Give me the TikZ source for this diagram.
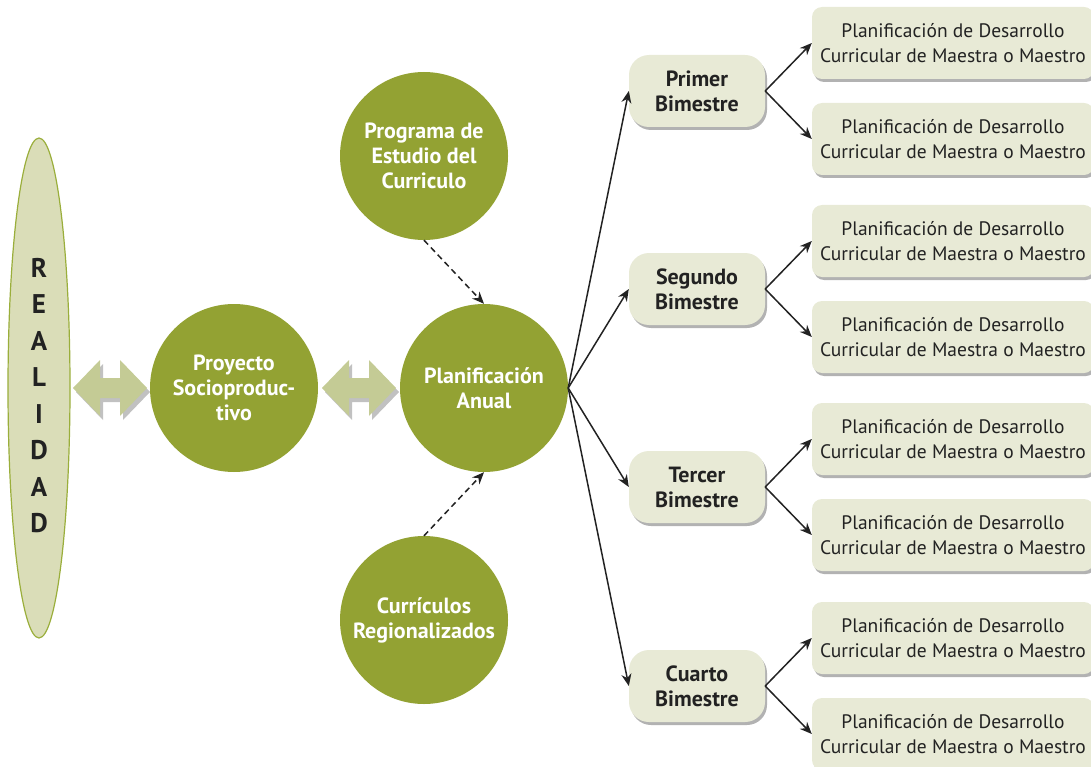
\documentclass[tikz,border=0pt]{standalone}
\usepackage{fontspec}
\setmainfont{PT Sans}
\usetikzlibrary{shadows,arrows.meta}
\definecolor{olive}{HTML}{93A233}
\definecolor{oliveedge}{HTML}{9AAE3B}
\definecolor{realfill}{HTML}{DADDB8}
\definecolor{boxfill}{HTML}{E8EAD6}
\definecolor{dblfill}{HTML}{C4CB95}
\definecolor{ink}{HTML}{222222}
\tikzset{
  bigcircle/.style={circle, fill=olive, minimum size=168pt, inner sep=0pt, text=white,
    font=\fontsize{22}{25}\selectfont\bfseries, align=center},
  bimbox/.style={rounded corners=20pt, fill=boxfill, minimum width=136pt, minimum height=72pt,
    font=\fontsize{22}{25}\selectfont\bfseries, text=ink, align=center,
    drop shadow={shadow xshift=2pt, shadow yshift=-3pt, opacity=0.5, fill=black!60}},
  planbox/.style={rounded corners=10pt, fill=boxfill, minimum width=282pt, minimum height=72pt,
    font=\fontsize{19.5}{25}\selectfont, text=ink, align=center,
    drop shadow={shadow xshift=2pt, shadow yshift=-3pt, opacity=0.5, fill=black!60}},
  conn/.style={-{Stealth[length=12pt,width=10pt]}, line width=1.5pt, ink},
  dconn/.style={-{Stealth[length=12pt,width=10pt]}, line width=1.5pt, ink, dash pattern=on 6pt off 4pt},
  dblarrow/.style={fill=dblfill, draw=none,
    drop shadow={shadow xshift=3pt, shadow yshift=-4pt, opacity=0.35, fill=black!70}},
  letter/.style={font=\fontsize{27}{27}\selectfont\bfseries, text=ink}
}
\begin{document}
\begin{tikzpicture}[x=1pt,y=-1pt]
\useasboundingbox (0,0) rectangle (1091,767);
% Realidad ellipse
\draw[fill=realfill, draw=oliveedge, line width=1.2pt] (39,388) ellipse [x radius=31, y radius=250];
\node[coordinate] (real) at (39,388) {};
\foreach \ch [count=\i] in {R,E,A,L,I,D,A,D}
  \node[letter] (r\i) at (39,{268+(\i-1)*36.5}) {\ch};
% double arrows
\foreach \cx in {110,359}{
  \path[dblarrow] (\cx-37,388) -- (\cx-10,360) -- (\cx-10,378) -- (\cx+10,378) -- (\cx+10,360)
     -- (\cx+37,388) -- (\cx+10,416) -- (\cx+10,398) -- (\cx-10,398) -- (\cx-10,416) -- cycle;
}
% circles
\node[bigcircle] (proy) at (234,388) {Proyecto\\Socioproduc-\\tivo};
\node[bigcircle] (anual) at (484,388) {Planificación\\Anual};
\node[bigcircle] (prog) at (424,156) {Programa de\\Estudio del\\Curriculo};
\node[bigcircle] (curr) at (424,620) {Currículos\\Regionalizados};
\draw[dconn] (prog.south) -- (anual.north);
\draw[dconn] (curr.north) -- (anual.south);
% bimestres
\node[bimbox] (b1) at (697,91) {Primer\\Bimestre};
\node[bimbox] (b2) at (697,289) {Segundo\\Bimestre};
\node[bimbox] (b3) at (697,487) {Tercer\\Bimestre};
\node[bimbox] (b4) at (697,686) {Cuarto\\Bimestre};
\foreach \b in {b1,b2,b3,b4}
  \draw[conn] (anual.east) -- (\b.west);
% plan boxes
\foreach \b/\y in {b1/91,b2/289,b3/487,b4/686}{
  \node[planbox] (\b a) at (953,\y-48) {Planificación de Desarrollo\\Curricular de Maestra o Maestro};
  \node[planbox] (\b b) at (953,\y+48) {Planificación de Desarrollo\\Curricular de Maestra o Maestro};
  \draw[conn] (\b.east) -- (\b a.west);
  \draw[conn] (\b.east) -- (\b b.west);
}
\end{tikzpicture}
\end{document}
